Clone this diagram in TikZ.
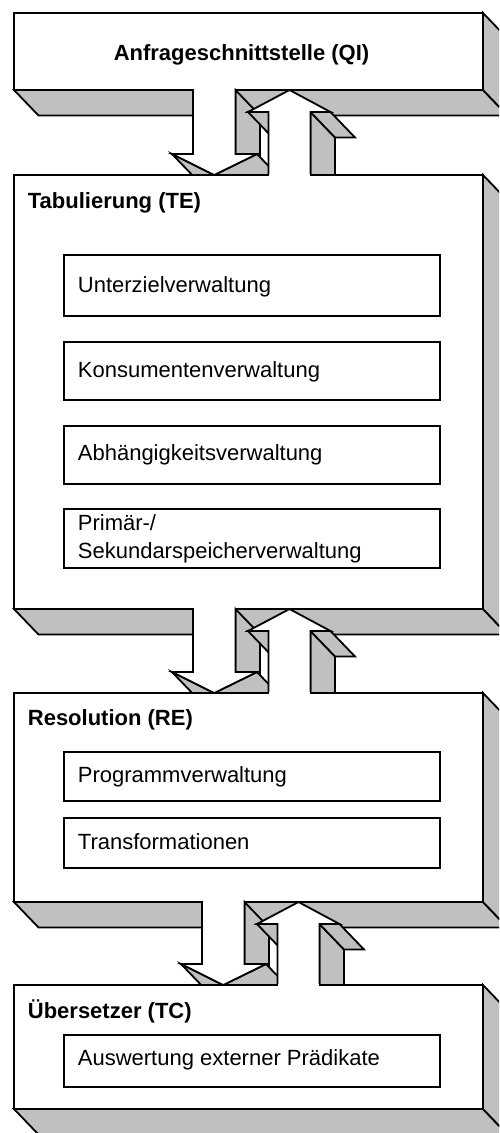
\documentclass[tikz,border=0pt]{standalone}
\usepackage{fontspec}
\setmainfont{Liberation Sans}
\definecolor{sidegrey}{RGB}{192,192,192}

% depth vector of all extruded parts
\def\dx{24.5}
\def\dy{25.5}

% a slab: visible bottom and right faces, then the front face
\newcommand\drawslab[4]{%
  \filldraw[face] (#1,#4) -- (#3,#4) -- (#3+\dx,#4+\dy) -- (#1+\dx,#4+\dy) -- cycle;
  \filldraw[face] (#3,#2) -- (#3+\dx,#2+\dy) -- (#3+\dx,#4+\dy) -- (#3,#4) -- cycle;
  \filldraw[front] (#1,#2) rectangle (#3,#4);
}

% pair of 3D arrows between two slabs: #1 x shift, #2 upper slab bottom, #3 lower slab top
\newcommand\drawlinkpair[3]{%
  \pgfmathsetmacro\arDL{193+#1}%
  \pgfmathsetmacro\arDR{235.5+#1}%
  \pgfmathsetmacro\arDWL{172+#1}%
  \pgfmathsetmacro\arDWR{257+#1}%
  \pgfmathsetmacro\arDC{214.25+#1}%
  \pgfmathsetmacro\arDW{#3-21}%
  \pgfmathsetmacro\arUL{268.5+#1}%
  \pgfmathsetmacro\arUR{310.5+#1}%
  \pgfmathsetmacro\arUWL{248+#1}%
  \pgfmathsetmacro\arUWR{330.5+#1}%
  \pgfmathsetmacro\arUC{289.5+#1}%
  \pgfmathsetmacro\arUW{#2+22}%
  % downward arrow: side faces
  \filldraw[face] (\arDR,#2) -- (\arDR+\dx,#2+\dy) -- (\arDR+\dx,\arDW+\dy) -- (\arDR,\arDW) -- cycle;
  \filldraw[face] (\arDC,#3) -- (\arDWL,\arDW) -- (\arDWL+\dx,\arDW+\dy) -- (\arDC+\dx,#3+\dy) -- cycle;
  \filldraw[face] (\arDWR,\arDW) -- (\arDC,#3) -- (\arDC+\dx,#3+\dy) -- (\arDWR+\dx,\arDW+\dy) -- cycle;
  % downward arrow: front, open towards the upper slab
  \fill[white] (\arDL,#2-1.2) -- (\arDR,#2-1.2) -- (\arDR,\arDW) -- (\arDWR,\arDW) -- (\arDC,#3)
     -- (\arDWL,\arDW) -- (\arDL,\arDW) -- cycle;
  \draw (\arDL,#2-0.9) -- (\arDL,\arDW) -- (\arDWL,\arDW) -- (\arDC,#3) -- (\arDWR,\arDW)
     -- (\arDR,\arDW) -- (\arDR,#2-0.9);
  % upward arrow: side faces
  \filldraw[face] (\arUWL,\arUW) -- (\arUL,\arUW) -- (\arUL+\dx,\arUW+\dy) -- (\arUWL+\dx,\arUW+\dy) -- cycle;
  \filldraw[face] (\arUR,\arUW) -- (\arUR+\dx,\arUW+\dy) -- (\arUR+\dx,#3+\dy) -- (\arUR,#3) -- cycle;
  \filldraw[face] (\arUR,\arUW) -- (\arUWR,\arUW) -- (\arUWR+\dx,\arUW+\dy) -- (\arUR+\dx,\arUW+\dy) -- cycle;
  % upward arrow: front
  \filldraw[front] (\arUC,#2) -- (\arUWR,\arUW) -- (\arUR,\arUW) -- (\arUR,#3) -- (\arUL,#3)
     -- (\arUL,\arUW) -- (\arUWL,\arUW) -- cycle;
}

% open the lower slab's top edge where the upward arrow leaves it
\newcommand\openjoint[2]{%
  \fill[white] (268.5+#1+0.9,#2-1.2) rectangle (310.5+#1-0.9,#2+1.2);
}

\begin{document}
\begin{tikzpicture}[x=1pt,y=-1pt,line width=1.8pt,line join=miter,
  face/.style={fill=sidegrey,draw=black},
  front/.style={fill=white,draw=black},
  subbox/.style={fill=white,draw=black},
  layertitle/.style={font=\bfseries\fontsize{22}{26}\selectfont,inner sep=0pt},
  itemtext/.style={font=\fontsize{22}{26}\selectfont,inner sep=0pt,anchor=base west}]
\clip (0,0) rectangle (499,1133);

% query interface
\drawslab{14}{13}{483}{90}
\node[layertitle,anchor=base] (qi) at (241.5,60) {Anfrageschnittstelle (QI)};

\drawlinkpair{0}{90}{175}

% tabling engine
\drawslab{14}{175}{483}{609}
\openjoint{0}{175}
\node[layertitle,anchor=base west] (te) at (27,208) {Tabulierung (TE)};
\draw[subbox] (64,255) rectangle (440,316);
\node[itemtext] (te1) at (77,292) {Unterzielverwaltung};
\draw[subbox] (64,342) rectangle (440,400);
\node[itemtext] (te2) at (77,377) {Konsumentenverwaltung};
\draw[subbox] (64,426) rectangle (440,484);
\node[itemtext] (te3) at (77,460.5) {Abhängigkeitsverwaltung};
\draw[subbox] (64,509) rectangle (440,568);
\node[itemtext] (te4a) at (77,530) {Primär-/};
\node[itemtext] (te4b) at (77,558) {Sekundarspeicherverwaltung};

\drawlinkpair{0}{609}{693}

% resolution engine
\drawslab{14}{693}{483}{902}
\openjoint{0}{693}
\node[layertitle,anchor=base west] (re) at (27,725) {Resolution (RE)};
\draw[subbox] (64,752) rectangle (440,801);
\node[itemtext] (re1) at (77,782.5) {Programmverwaltung};
\draw[subbox] (64,818) rectangle (440,868);
\node[itemtext] (re2) at (77,849) {Transformationen};

\drawlinkpair{9}{902}{985}

% compiler
\drawslab{14}{985}{483}{1109}
\openjoint{9}{985}
\node[layertitle,anchor=base west] (tc) at (27,1018) {Übersetzer (TC)};
\draw[subbox] (64,1035) rectangle (440,1087);
\node[itemtext] (tc1) at (77,1065) {Auswertung externer Prädikate};
\end{tikzpicture}
\end{document}
